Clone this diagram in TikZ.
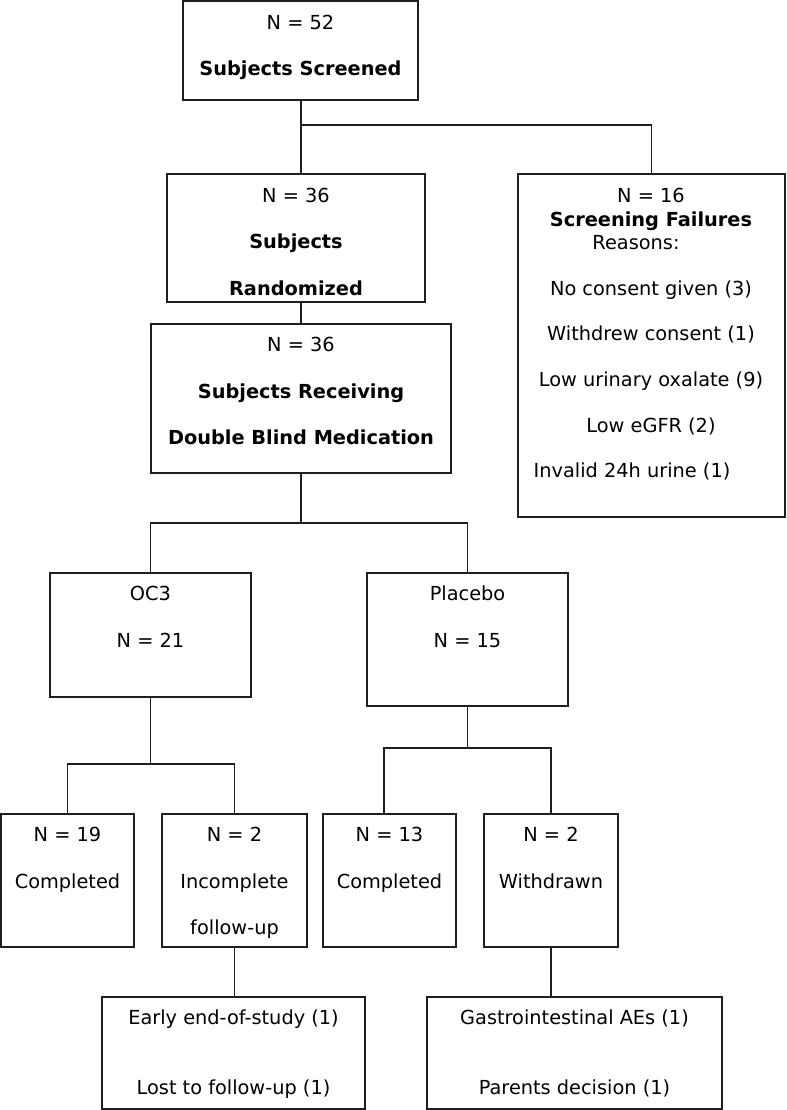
\documentclass[tikz,border=0pt]{standalone}
\usepackage{fontspec}
\setmainfont{DejaVu Sans}
\usetikzlibrary{fit}
\begin{document}
\begin{tikzpicture}[x=0.75pt,y=-0.75pt,
  box/.style={draw=black!88, line width=1.3pt, inner sep=0pt},
  txt/.style={anchor=base, yshift=-5.25pt, inner sep=0pt, font=\fontsize{14.5}{17}\selectfont},
  btxt/.style={anchor=base, yshift=-5.25pt, inner sep=0pt, font=\fontsize{14.5}{17}\selectfont\bfseries},
  link/.style={draw=black!88, line width=1.3pt}]
\useasboundingbox[fill=white] (0,0) rectangle (786,1110);

% boxes
\node[box, fit={(183,1) (418,100)}] (screened) {};
\node[box, fit={(167,174) (425,302)}] (rand) {};
\node[box, fit={(518,174) (785,517)}] (fail) {};
\node[box, fit={(151,324) (451,473)}] (recv) {};
\node[box, fit={(50,573) (251,697)}] (oc3) {};
\node[box, fit={(367,573) (568,706)}] (plac) {};
\node[box, fit={(1,814) (134,947)}] (oc3done) {};
\node[box, fit={(162,814) (307,947)}] (oc3inc) {};
\node[box, fit={(323,814) (456,947)}] (placdone) {};
\node[box, fit={(484,814) (618,947)}] (placwd) {};
\node[box, fit={(102,997) (365,1109)}] (incwhy) {};
\node[box, fit={(427,997) (722,1109)}] (wdwhy) {};

% texts
\node[txt]  (t1a) at (300.5,22) {N = 52};
\node[btxt] (t1b) at (300.5,68) {Subjects Screened};

\node[txt]  (t2a) at (296,195) {N = 36};
\node[btxt] (t2b) at (296,241) {Subjects};
\node[btxt] (t2c) at (296,288) {Randomized};

\node[txt]  (t3a) at (651,195) {N = 16};
\node[btxt] (t3b) at (651,219) {Screening Failures};
\node[txt]  (t3c) at (636,242) {Reasons:};
\node[txt]  (t3d) at (651,288) {No consent given (3)};
\node[txt]  (t3e) at (651,333) {Withdrew consent (1)};
\node[txt]  (t3f) at (651,379) {Low urinary oxalate (9)};
\node[txt]  (t3g) at (651,425) {Low eGFR (2)};
\node[txt]  (t3h) at (632,470) {Invalid 24h urine (1)};

\node[txt]  (t4a) at (301,344) {N = 36};
\node[btxt] (t4b) at (301,391) {Subjects Receiving};
\node[btxt] (t4c) at (301,437) {Double Blind Medication};

\node[txt] (t5a) at (150.5,593) {OC3};
\node[txt] (t5b) at (150.5,640) {N = 21};
\node[txt] (t6a) at (467.5,593) {Placebo};
\node[txt] (t6b) at (467.5,640) {N = 15};

\node[txt] (t7a) at (67.5,834) {N = 19};
\node[txt] (t7b) at (67.5,881) {Completed};
\node[txt] (t8a) at (234.5,834) {N = 2};
\node[txt] (t8b) at (234.5,881) {Incomplete};
\node[txt] (t8c) at (234.5,927) {follow-up};
\node[txt] (t9a) at (389.5,834) {N = 13};
\node[txt] (t9b) at (389.5,881) {Completed};
\node[txt] (t10a) at (551,834) {N = 2};
\node[txt] (t10b) at (551,881) {Withdrawn};

\node[txt] (t11a) at (233.5,1017) {Early end-of-study (1)};
\node[txt] (t11b) at (233.5,1087) {Lost to follow-up (1)};
\node[txt] (t12a) at (574.5,1017) {Gastrointestinal AEs (1)};
\node[txt] (t12b) at (574.5,1087) {Parents decision (1)};

% connectors
\coordinate (j1) at (301,125);
\draw[link] (screened.south -| j1) -- (j1) -| (fail.north);
\draw[link] (j1) -- (j1 |- rand.north);
\draw[link] (rand.south -| recv.north) -- (recv.north);
\coordinate (j2) at (301,523);
\draw[link] (recv.south) -- (j2);
\draw[link] (oc3.north) |- (j2) -| (plac.north);
\coordinate (j3) at (151,764);
\draw[link] (oc3.south) -- (oc3.south |- j3);
\draw[link] (oc3done.north) |- (j3) -| (oc3inc.north);
\coordinate (j4) at (468,748);
\draw[link] (plac.south) -- (plac.south |- j4);
\draw[link] ([xshift=-4.1pt]placdone.north) |- (j4) -| (placwd.north);
\draw[link] (oc3inc.south) -- (oc3inc.south |- incwhy.north);
\draw[link] (placwd.south) -- (placwd.south |- wdwhy.north);
\end{tikzpicture}
\end{document}
